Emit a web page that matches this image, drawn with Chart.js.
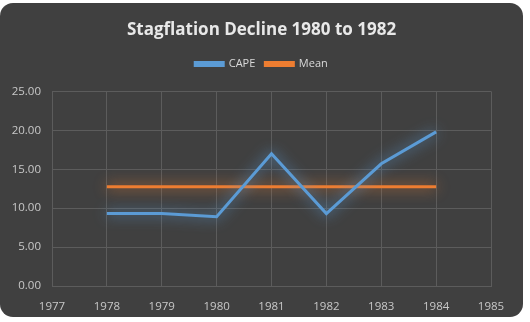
<!DOCTYPE html>
<html>
<head>
<meta charset="utf-8">
<script src="https://cdn.jsdelivr.net/npm/chart.js@4"></script>
<style>
  body { margin: 0; background: #ffffff; }
  #box {
    position: absolute; left: 0; top: 3px; width: 523px; height: 314px;
    background: #404040; border-radius: 13px; overflow: hidden;
  }
</style>
</head>
<body>
<div id="box"><canvas id="cape"></canvas></div>
<script>
var years = [1978, 1979, 1980, 1981, 1982, 1983, 1984];
var capeValues = [9.3, 9.3, 8.9, 17.0, 9.3, 15.7, 19.8];
var meanValue = 12.76;
var meanYears = [1978, 1984];

// soft glow round each line, like the office chart style
var glow = {
    id: 'glow',
    beforeDatasetDraw: function (chart, args) {
        var ctx = chart.ctx;
        ctx.save();
        ctx.shadowColor = args.meta.dataset.options.borderColor;
        ctx.shadowBlur = 14;
    },
    afterDatasetDraw: function (chart) {
        chart.ctx.restore();
    }
};

// extra gap under the legend
var legendGap = {
    id: 'legendGap',
    beforeInit: function (chart) {
        var fit = chart.legend.fit;
        chart.legend.fit = function () {
            fit.bind(chart.legend)();
            this.height += 12;
        };
    }
};

var canvas = document.getElementById('cape');
canvas.width = 523;
canvas.height = 314;

new Chart(canvas.getContext('2d'), {
    type: 'line',
    data: {
        datasets: [{
            label: 'CAPE',
            data: years.map((y, i) => ({ x: y, y: capeValues[i] })),
            borderColor: '#5b9bd5',
            backgroundColor: '#5b9bd5',
            borderWidth: 3,
            pointRadius: 0,
            tension: 0
        }, {
            label: 'Mean',
            data: meanYears.map(y => ({ x: y, y: meanValue })),
            borderColor: '#ed7d31',
            backgroundColor: '#ed7d31',
            borderWidth: 3,
            pointRadius: 0
        }]
    },
    plugins: [glow, legendGap],
    options: {
        responsive: false,
        animation: false,
        layout: { padding: { left: 0, right: 0, top: 6, bottom: 2 } },
        plugins: {
            title: {
                display: true,
                text: 'Stagflation Decline 1980 to 1982',
                color: '#e8e8e8',
                font: { family: 'Open Sans', size: 17, weight: 'bold' },
                padding: { top: 11, bottom: 8 }
            },
            legend: {
                labels: {
                    color: '#d9d9d9',
                    font: { family: 'Open Sans', size: 11 },
                    boxWidth: 28,
                    boxHeight: 3,
                    padding: 10
                }
            },
            tooltip: { enabled: false }
        },
        scales: {
            x: {
                type: 'linear',
                min: 1977,
                max: 1985,
                ticks: {
                    stepSize: 1,
                    color: '#c8c8c8',
                    font: { family: 'Open Sans', size: 11.5 },
                    padding: 14,
                    callback: v => String(v)
                },
                grid: { color: '#5c5c5c', tickLength: 0 },
                border: { color: '#5c5c5c' },
                afterFit: function (scale) { scale.height = 29; }
            },
            y: {
                min: 0,
                max: 25,
                ticks: {
                    stepSize: 5,
                    color: '#c8c8c8',
                    font: { family: 'Open Sans', size: 11.5 },
                    padding: 11,
                    callback: v => v.toFixed(2)
                },
                grid: { color: '#5c5c5c', tickLength: 0 },
                border: { color: '#5c5c5c' },
                afterFit: function (scale) { scale.width = 52; }
            },
            // empty right-hand scale only keeps the plot clear of the right edge
            yRight: {
                position: 'right',
                display: true,
                ticks: { display: false },
                grid: { display: false },
                border: { display: false },
                afterFit: function (scale) { scale.width = 32; }
            }
        }
    }
});
</script>
</body>
</html>
